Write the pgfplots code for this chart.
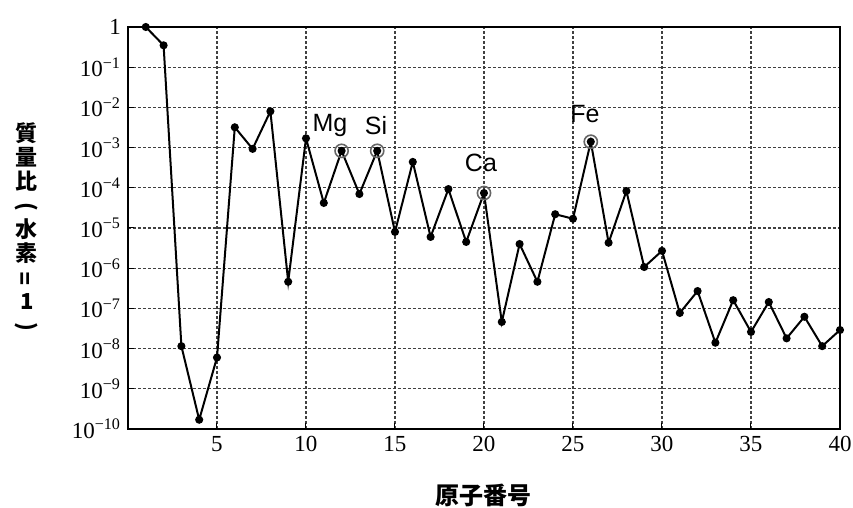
\documentclass[border=0pt]{standalone}
\usepackage{fontspec}
\setmainfont{Liberation Serif}
\setsansfont{Liberation Sans}
\newfontfamily\jp{Noto Sans CJK JP}
\usepackage{graphicx}
\usepackage{pgfplots}
\pgfplotsset{compat=1.18}

\begin{document}
\begin{tikzpicture}
\begin{axis}[
    name=ax,
    scale only axis,
    width=356pt, height=201pt,
    ymode=log,
    xmin=0, xmax=40,
    ymin=1e-10, ymax=1,
    xtick={5,10,15,20,25,30,35,40},
    xticklabels={5,10,15,20,25,30,35,40},
    ytick={1e-10,1e-9,1e-8,1e-7,1e-6,1e-5,1e-4,1e-3,1e-2,1e-1,1},
    yticklabels={10\textsuperscript{−10},10\textsuperscript{−9},10\textsuperscript{−8},
        10\textsuperscript{−7},10\textsuperscript{−6},10\textsuperscript{−5},
        10\textsuperscript{−4},10\textsuperscript{−3},10\textsuperscript{−2},
        10\textsuperscript{−1},1},
    yminorticks=false,
    ticklabel style={font=\fontsize{11.5}{12}\selectfont},
    tick pos=left,
    tick style={black, line width=0.5pt},
    major tick length=3pt,
    grid=major,
    grid style={black!75, line width=0.6pt, dash pattern=on 1.6pt off 0.9pt},
    axis line style={black, line width=0.9pt},
    clip=false,
]
% mass ratio (H = 1) by atomic number
\addplot[black, line width=1pt, mark=*, mark size=1.5pt] coordinates {
    (1,1) (2,0.35) (3,1.15e-8) (4,1.7e-10) (5,6e-9)
    (6,3.2e-3) (7,9.3e-4) (8,8e-3) (9,4.6e-7) (10,1.7e-3)
    (11,4.2e-5) (12,8.3e-4) (13,7e-5) (14,8.3e-4) (15,8e-6)
    (16,4.4e-4) (17,6e-6) (18,9.3e-5) (19,4.5e-6) (20,7.4e-5)
    (21,4.6e-8) (22,4e-6) (23,4.6e-7) (24,2.2e-5) (25,1.7e-5)
    (26,1.4e-3) (27,4.3e-6) (28,8.3e-5) (29,1.07e-6) (30,2.7e-6)
    (31,7.7e-8) (32,2.7e-7) (33,1.4e-8) (34,1.6e-7) (35,2.6e-8)
    (36,1.44e-7) (37,1.8e-8) (38,6.2e-8) (39,1.15e-8) (40,2.9e-8)
};
% highlighted elements
\addplot[only marks, mark=o, mark size=3.3pt, black!60, line width=0.8pt] coordinates {
    (12,8.3e-4) (14,8.3e-4) (20,7.4e-5) (26,1.4e-3)
};
\node[font=\sffamily\fontsize{12.5}{13}\selectfont] at (axis cs:11.35,3.5e-3) {Mg};
\node[font=\sffamily\fontsize{12.5}{13}\selectfont] at (axis cs:13.93,3.5e-3) {Si};
\node[font=\sffamily\fontsize{12.5}{13}\selectfont] at (axis cs:19.83,4.2e-4) {Ca};
\node[font=\sffamily\fontsize{12.5}{13}\selectfont] at (axis cs:25.67,7.0e-3) {Fe};

% axis titles
\node[font=\jp\bfseries\fontsize{12}{13}\selectfont] at ([yshift=-33pt]rel axis cs:0.5,0) {原子番号};
\node[font=\jp\bfseries\fontsize{11}{12}\selectfont, align=center, inner sep=0pt]
    at ([xshift=-50.5pt]rel axis cs:0,0.5)
    {質\\量\\比\\\rotatebox[origin=c]{-90}{(}\\水\\素\\\rotatebox[origin=c]{90}{=}\\1\\\rotatebox[origin=c]{-90}{)}};

\coordinate (ll) at (rel axis cs:0,0);
\coordinate (ur) at (rel axis cs:1,1);
\end{axis}
\pgfresetboundingbox
\path ([xshift=-64pt,yshift=-39.5pt]ll) rectangle ([xshift=6.5pt,yshift=13.5pt]ur);
\end{tikzpicture}
\end{document}
